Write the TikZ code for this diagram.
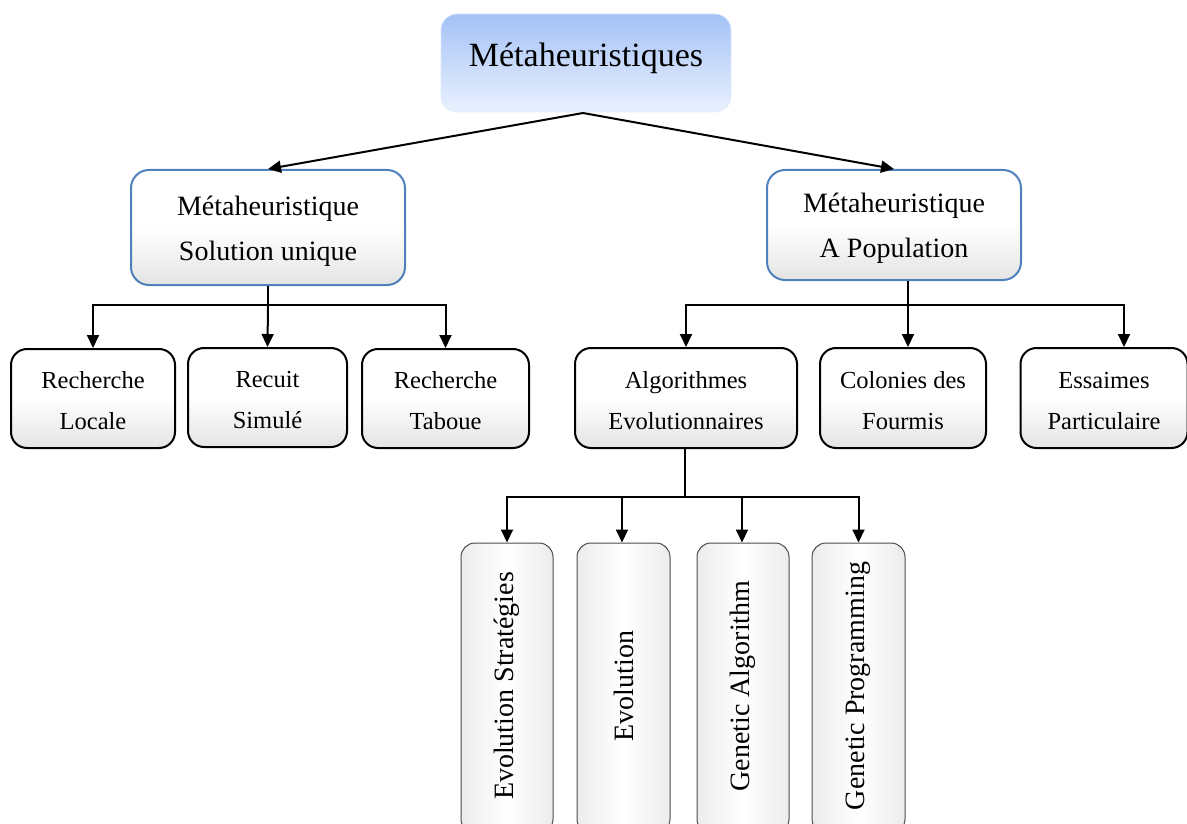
\documentclass[tikz,border=0pt]{standalone}
\usepackage{fontspec}
\setmainfont{Liberation Serif}
\usetikzlibrary{arrows.meta}
\definecolor{topA}{RGB}{164,194,246}
\definecolor{topB}{RGB}{234,241,255}
\definecolor{bord}{RGB}{79,129,189}
\definecolor{shd}{RGB}{228,228,228}
\definecolor{vshd}{RGB}{236,236,236}
\newcommand{\strutA}{\rule{0pt}{26pt}}
\newcommand{\strutB}{\rule{0pt}{22pt}}
\tikzset{
  topbox/.style={rounded corners=16pt, top color=topA, bottom color=topB, draw=topB!80!topA, line width=0.6pt, align=center, inner sep=0pt},
  lvtwo/.style={rounded corners=18pt, draw=bord, line width=2pt, top color=white, bottom color=shd, middle color=white, align=center, inner sep=0pt, font=\fontsize{28}{45}\selectfont},
  lvthree/.style={rounded corners=16pt, draw=black, line width=2pt, top color=white, bottom color=shd, middle color=white, align=center, inner sep=0pt, font=\fontsize{24.5}{41}\selectfont},
  vbox/.style={rounded corners=14pt, draw=black!70, line width=1pt, left color=vshd, right color=vshd, middle color=white, inner sep=0pt},
  vtext/.style={rotate=90, font=\fontsize{28}{30}\selectfont, inner sep=0pt},
  conn/.style={line width=2pt, black},
  arr/.style={conn, -{Triangle[length=13pt,width=12pt]}},
}
\begin{document}
\begin{tikzpicture}[x=1pt,y=-1pt]
\useasboundingbox (0,0) rectangle (1187,824);
% top
\node[topbox, minimum width=290pt, minimum height=98pt] (top) at (586,63) {};
\node[font=\fontsize{34}{40}\selectfont, inner sep=0pt] (toptxt) at (586,58) {Métaheuristiques};
% level 2
\node[lvtwo, minimum width=274pt, minimum height=115pt] (sol) at (268,227.5) {\strutA Métaheuristique\\Solution unique};
\node[lvtwo, minimum width=254pt, minimum height=110pt] (pop) at (894,225) {\strutA Métaheuristique\\A Population};
% level 3
\node[lvthree, minimum width=164pt, minimum height=99pt] (loc) at (93,398.5) {\strutB Recherche\\Locale};
\node[lvthree, minimum width=159pt, minimum height=99pt] (rec) at (267.5,397.5) {\strutB Recuit\\Simulé};
\node[lvthree, minimum width=167pt, minimum height=99pt] (tab) at (445.5,398.5) {\strutB Recherche\\Taboue};
\node[lvthree, minimum width=222pt, minimum height=100pt] (alg) at (686,398) {\strutB Algorithmes\\Evolutionnaires};
\node[lvthree, minimum width=166pt, minimum height=100pt] (col) at (903,398) {\strutB Colonies des\\Fourmis};
\node[lvthree, minimum width=167pt, minimum height=100pt] (ess) at (1104,398) {\strutB Essaimes\\Particulaire};
% level 4
\node[vbox, minimum width=92pt, minimum height=290pt] (es) at (507,688) {};
\node[vbox, minimum width=93pt, minimum height=290pt] (ev) at (623.5,688) {};
\node[vbox, minimum width=92pt, minimum height=290pt] (ga) at (743,688) {};
\node[vbox, minimum width=93pt, minimum height=290pt] (gp) at (858.5,688) {};
\node[vtext] (estxt) at (507,686) {Evolution Stratégies};
\node[vtext] (evtxt) at (623.5,686) {Evolution};
\node[vtext] (gatxt) at (743,686) {Genetic Algorithm};
\node[vtext] (gptxt) at (858.5,686) {Genetic Programming};
% connectors
\coordinate (apex) at (583,113);
\draw[arr] (apex) -- (sol.north);
\draw[arr] (apex) -- (pop.north);
\coordinate (ja) at (268,305);
\draw[conn] (sol.south) -- (ja);
\draw[arr] (ja) -| (loc.north);
\draw[arr] (ja) -- (rec.north);
\draw[arr] (ja) -| (tab.north);
\coordinate (jb) at (908,305);
\draw[conn] (jb |- pop.south) -- (jb);
\draw[arr] (jb) -| (alg.north);
\draw[arr] (jb) -| (col.north -| jb);
\draw[arr] (jb) -| ([xshift=20pt]ess.north);
\coordinate (jc) at (685,497);
\draw[conn] (jc |- alg.south) -- (jc);
\draw[arr] (jc) -| (es.north);
\draw[arr] (jc) -| ([xshift=-1.5pt]ev.north);
\draw[arr] (jc) -| ([xshift=-1pt]ga.north);
\draw[arr] (jc) -| (gp.north);
\end{tikzpicture}
\end{document}
